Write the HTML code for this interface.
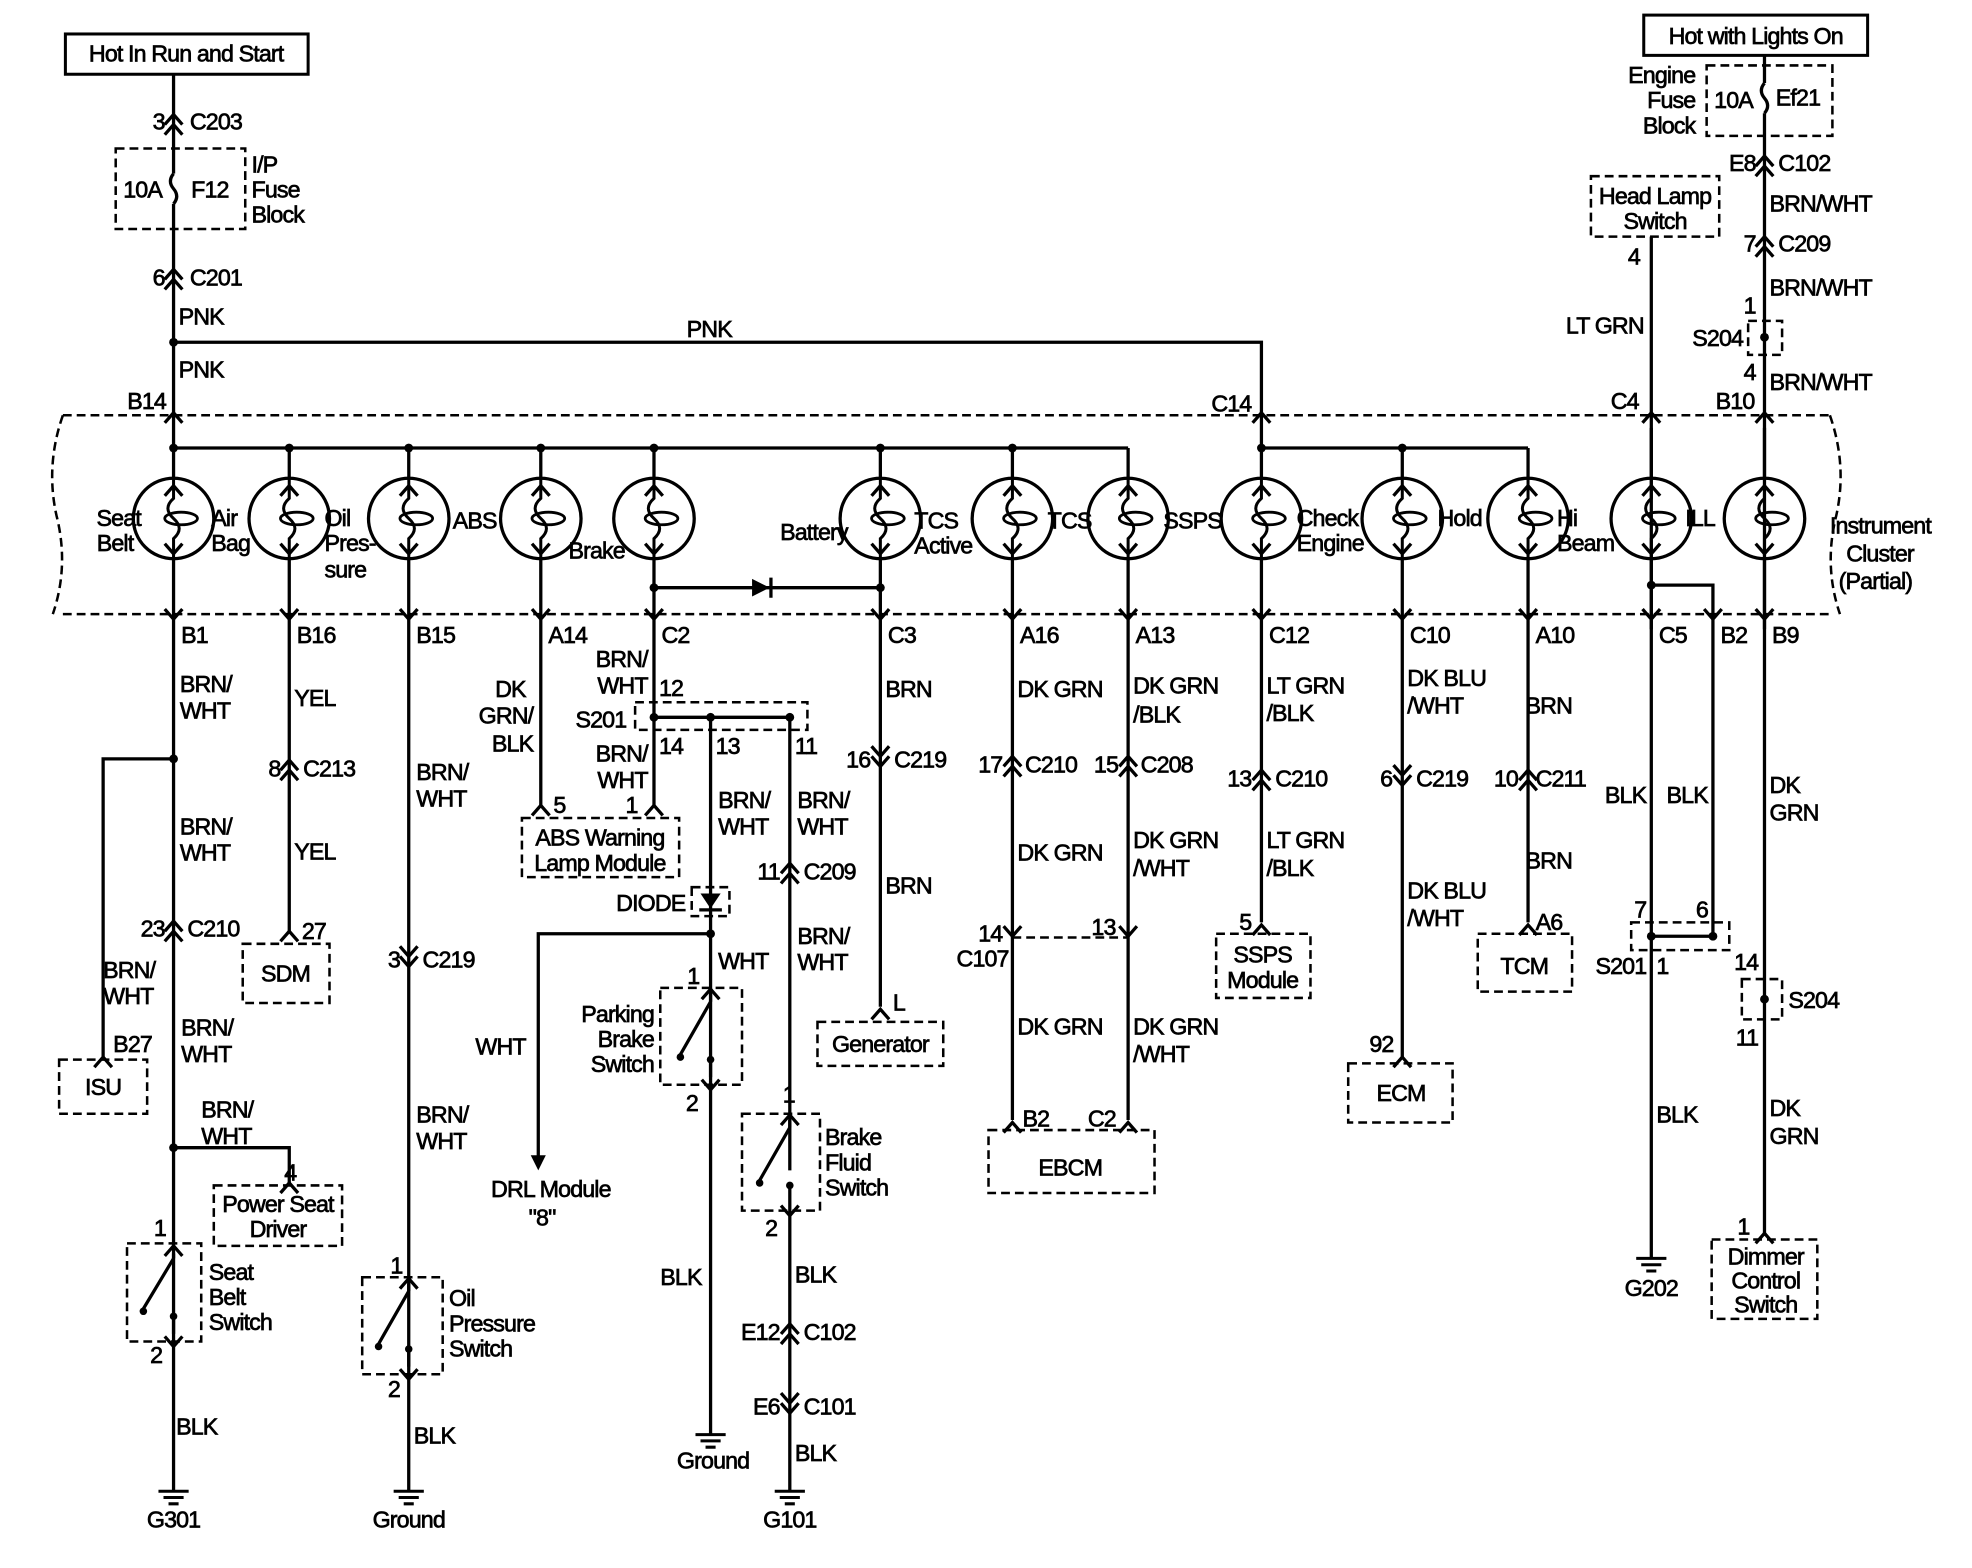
<!DOCTYPE html>
<html><head><meta charset="utf-8"><style>
html,body{margin:0;padding:0;background:#fff}
svg{display:block}
text{font-family:"Liberation Sans",Arial,sans-serif;font-size:18.5px;fill:#000;stroke:#000;stroke-width:0.55px;letter-spacing:-0.7px}
.w{stroke:#000;stroke-width:2.6;fill:none}
.d{stroke:#000;stroke-width:2;fill:none;stroke-dasharray:7,4}
.e{text-anchor:end}
.m{text-anchor:middle}
</style></head><body>
<svg width="1972" height="1568" viewBox="0 0 1568 1246" preserveAspectRatio="none" xmlns="http://www.w3.org/2000/svg">
<defs>
<path id="up" d="M-7,6 L0,-2 L7,6" stroke="#000" stroke-width="2.6" fill="none"/>
<path id="dn" d="M-7,-6 L0,2 L7,-6" stroke="#000" stroke-width="2.6" fill="none"/>
<g id="cu"><use href="#up" y="-4"/><use href="#up" y="4"/></g>
<g id="cd"><use href="#dn" y="-4"/><use href="#dn" y="4"/></g>
<g id="lamp"><circle r="32" stroke="#000" stroke-width="2.6" fill="none"/>
<path d="M0,-32 L0,-16 Q-9,-8 0,0 Q9,8 0,16 L0,32" stroke="#000" stroke-width="2.4" fill="none"/>
<ellipse cx="6" cy="0" rx="13" ry="5" stroke="#000" stroke-width="2.2" fill="none"/>
<use href="#up" y="-24"/><use href="#dn" y="26"/></g>
<circle id="dot" r="3.5" fill="#000"/>
<g id="gnd"><path d="M-12,0 H12 M-8,5 H8 M-4,10 H4" stroke="#000" stroke-width="2.4"/></g>
</defs>

<!-- top left -->
<rect x="52" y="27" width="193" height="32" fill="none" stroke="#000" stroke-width="2.4"/>
<text x="148" y="49" class="m">Hot In Run and Start</text>
<path class="w" d="M138,59 V138 M138,162 V356"/>
<path class="w" d="M138,138 q-5,6 0,12 q5,6 0,12"/>
<use href="#cu" x="138" y="97"/><text x="131" y="103" class="e">3</text><text x="151" y="103">C203</text>
<rect class="d" x="92" y="118" width="103" height="64"/>
<text x="98" y="157">10A</text><text x="152" y="157">F12</text>
<text x="200" y="137">I/P</text><text x="200" y="157">Fuse</text><text x="200" y="177">Block</text>
<use href="#cu" x="138" y="220"/><text x="131" y="227" class="e">6</text><text x="151" y="227">C201</text>
<text x="142" y="258">PNK</text><text x="142" y="300">PNK</text>
<path class="w" d="M138,272 H1003 V356"/><use href="#dot" x="138" y="272"/>
<text x="546" y="268">PNK</text>

<!-- top right -->
<rect x="1307" y="12" width="178" height="32" fill="none" stroke="#000" stroke-width="2.4"/>
<text x="1396" y="35" class="m">Hot with Lights On</text>
<path class="w" d="M1403,44 V66 M1403,90 V500"/>
<path class="w" d="M1403,66 q-5,6 0,12 q5,6 0,12"/>
<rect class="d" x="1357" y="52" width="100" height="56"/>
<text x="1363" y="86">10A</text><text x="1412" y="84">Ef21</text>
<text x="1348" y="66" class="e">Engine</text><text x="1348" y="86" class="e">Fuse</text><text x="1348" y="106" class="e">Block</text>
<use href="#cu" x="1403" y="130"/><text x="1396" y="136" class="e">E8</text><text x="1414" y="136">C102</text>
<text x="1407" y="168">BRN/WHT</text>
<use href="#cu" x="1403" y="194"/><text x="1396" y="200" class="e">7</text><text x="1414" y="200">C209</text>
<text x="1407" y="235">BRN/WHT</text>
<rect class="d" x="1390" y="255" width="27" height="27"/><use href="#dot" x="1403" y="268"/>
<text x="1396" y="249" class="e">1</text><text x="1386" y="275" class="e">S204</text><text x="1396" y="302" class="e">4</text>
<text x="1407" y="310">BRN/WHT</text>
<rect class="d" x="1265" y="140" width="102" height="48"/>
<text x="1316" y="162" class="m">Head Lamp</text><text x="1316" y="182" class="m">Switch</text>
<text x="1304" y="210" class="e">4</text>
<path class="w" d="M1313,188 V500"/>
<text x="1307" y="265" class="e">LT GRN</text>

<!-- cluster -->
<path class="d" d="M50,330 H1455 M50,488 H1455"/>
<path class="d" d="M50,330 q-14,40 -5,80 q10,40 -3,78"/>
<path class="d" d="M1455,330 q14,40 5,80 q-10,40 3,78"/>
<text x="132" y="325" class="e">B14</text><text x="995" y="327" class="e">C14</text>
<text x="1303" y="325" class="e">C4</text><text x="1395" y="325" class="e">B10</text>
<use href="#up" x="138" y="330"/><use href="#up" x="1003" y="330"/><use href="#up" x="1313" y="330"/><use href="#up" x="1403" y="330"/>
<path class="w" d="M138,356 H897 M1003,356 H1215"/>
<use href="#dot" x="138" y="356"/><use href="#dot" x="230" y="356"/><use href="#dot" x="325" y="356"/><use href="#dot" x="430" y="356"/><use href="#dot" x="520" y="356"/><use href="#dot" x="700" y="356"/><use href="#dot" x="805" y="356"/><use href="#dot" x="1003" y="356"/><use href="#dot" x="1115" y="356"/>
<g class="w">
<path d="M138,356 V380 M230,356 V380 M325,356 V380 M430,356 V380 M520,356 V380 M700,356 V380 M805,356 V380 M897,356 V380 M1003,356 V380 M1115,356 V380 M1215,356 V380 M1313,340 V380 M1403,340 V380"/>
</g>
<use href="#lamp" x="138" y="412"/><use href="#lamp" x="230" y="412"/><use href="#lamp" x="325" y="412"/><use href="#lamp" x="430" y="412"/><use href="#lamp" x="520" y="412"/><use href="#lamp" x="700" y="412"/><use href="#lamp" x="805" y="412"/><use href="#lamp" x="897" y="412"/><use href="#lamp" x="1003" y="412"/><use href="#lamp" x="1115" y="412"/><use href="#lamp" x="1215" y="412"/><use href="#lamp" x="1313" y="412"/><use href="#lamp" x="1403" y="412"/>
<text x="112" y="418" class="e">Seat</text><text x="106" y="438" class="e">Belt</text>
<text x="168" y="418">Air</text><text x="168" y="438">Bag</text>
<text x="258" y="418">Oil</text><text x="258" y="438">Pres-</text><text x="258" y="459">sure</text>
<text x="360" y="420">ABS</text><text x="452" y="444">Brake</text>
<text x="674" y="429" class="e">Battery</text>
<text x="727" y="420">TCS</text><text x="727" y="440">Active</text>
<text x="833" y="420">TCS</text><text x="925" y="420">SSPS</text>
<text x="1031" y="418">Check</text><text x="1031" y="438">Engine</text>
<text x="1143" y="418">Hold</text>
<text x="1238" y="418">Hi</text><text x="1238" y="438">Beam</text>
<text x="1340" y="418">ILL</text>
<text x="1455" y="424">Instrument</text><text x="1468" y="446">Cluster</text><text x="1462" y="468">(Partial)</text>
<path class="w" d="M138,444 V1185 M230,444 V740 M325,444 V1185 M430,444 V640 M520,444 V558 M700,444 V800 M805,444 V890 M897,444 V890 M1003,444 V733 M1115,444 V840 M1215,444 V733 M1313,444 V1000 M1403,444 V980"/>
<path class="w" d="M520,467 H700 M1313,465 H1362 V744"/>
<path d="M598,460 L612,467 L598,474 Z" fill="#000"/><path class="w" d="M613,459 V475"/>
<use href="#dot" x="520" y="467"/><use href="#dot" x="700" y="467"/><use href="#dot" x="1313" y="465"/>
<g>
<use href="#dn" x="138" y="490"/><use href="#dn" x="230" y="490"/><use href="#dn" x="325" y="490"/><use href="#dn" x="430" y="490"/><use href="#dn" x="520" y="490"/><use href="#dn" x="700" y="490"/><use href="#dn" x="805" y="490"/><use href="#dn" x="897" y="490"/><use href="#dn" x="1003" y="490"/><use href="#dn" x="1115" y="490"/><use href="#dn" x="1215" y="490"/><use href="#dn" x="1313" y="490"/><use href="#dn" x="1362" y="490"/><use href="#dn" x="1403" y="490"/>
</g>
<text x="144" y="511">B1</text><text x="236" y="511">B16</text><text x="331" y="511">B15</text><text x="436" y="511">A14</text><text x="526" y="511">C2</text><text x="706" y="511">C3</text><text x="811" y="511">A16</text><text x="903" y="511">A13</text><text x="1009" y="511">C12</text><text x="1121" y="511">C10</text><text x="1221" y="511">A10</text><text x="1319" y="511">C5</text><text x="1368" y="511">B2</text><text x="1409" y="511">B9</text>

<!-- col 138 -->
<text x="143" y="550">BRN/</text><text x="143" y="571">WHT</text>
<use href="#dot" x="138" y="603"/><path class="w" d="M138,603 H82 V840"/><use href="#up" x="82" y="842"/>
<text x="143" y="663">BRN/</text><text x="143" y="684">WHT</text>
<use href="#cu" x="138" y="738"/><text x="131" y="744" class="e">23</text><text x="149" y="744">C210</text>
<text x="82" y="777">BRN/</text><text x="82" y="798">WHT</text>
<text x="144" y="823">BRN/</text><text x="144" y="844">WHT</text>
<text x="90" y="836">B27</text>
<rect class="d" x="47" y="842" width="70" height="43"/><text x="82" y="870" class="m">ISU</text>
<use href="#dot" x="138" y="912"/><path class="w" d="M138,912 H230 V940"/><use href="#up" x="230" y="942"/>
<text x="160" y="888">BRN/</text><text x="160" y="909">WHT</text><text x="226" y="938">4</text>
<rect class="d" x="170" y="942" width="102" height="48"/>
<text x="221" y="963" class="m">Power Seat</text><text x="221" y="983" class="m">Driver</text>
<rect class="d" x="101" y="988" width="59" height="78" fill="#fff"/>
<text x="132" y="982" class="e">1</text><text x="129" y="1083" class="e">2</text>
<use href="#up" x="138" y="992"/><use href="#dn" x="138" y="1068"/>
<path class="w" d="M138,996 V1000 M114,1040 L138,1000 M138,1048 V1060" />
<circle cx="114" cy="1042" r="3" fill="#000"/><circle cx="138" cy="1046" r="3" fill="#000"/>
<text x="166" y="1017">Seat</text><text x="166" y="1037">Belt</text><text x="166" y="1057">Switch</text>
<text x="140" y="1140">BLK</text>
<use href="#gnd" x="138" y="1185"/><text x="138" y="1214" class="m">G301</text>

<!-- col 230 -->
<text x="234" y="561">YEL</text>
<use href="#cu" x="230" y="610"/><text x="223" y="617" class="e">8</text><text x="241" y="617">C213</text>
<text x="234" y="683">YEL</text>
<use href="#up" x="230" y="742"/><text x="240" y="746">27</text>
<rect class="d" x="193" y="750" width="69" height="47"/><text x="227" y="780" class="m">SDM</text>

<!-- col 325 -->
<text x="331" y="620">BRN/</text><text x="331" y="641">WHT</text>
<use href="#cd" x="325" y="762"/><text x="318" y="769" class="e">3</text><text x="336" y="769">C219</text>
<text x="331" y="892">BRN/</text><text x="331" y="913">WHT</text>
<rect class="d" x="288" y="1015" width="64" height="77" fill="#fff"/>
<text x="320" y="1012" class="e">1</text><text x="318" y="1110" class="e">2</text>
<use href="#up" x="325" y="1018"/><use href="#dn" x="325" y="1094"/>
<path class="w" d="M325,1020 V1026 M301,1068 L325,1026 M325,1074 V1086"/>
<circle cx="301" cy="1070" r="3" fill="#000"/><circle cx="325" cy="1072" r="3" fill="#000"/>
<text x="357" y="1038">Oil</text><text x="357" y="1058">Pressure</text><text x="357" y="1078">Switch</text>
<text x="329" y="1147">BLK</text>
<use href="#gnd" x="325" y="1185"/><text x="325" y="1214" class="m">Ground</text>

<!-- col 430/520 -->
<text x="418" y="554" class="e">DK</text><text x="424" y="575" class="e">GRN/</text><text x="424" y="597" class="e">BLK</text>
<use href="#up" x="430" y="642"/><text x="440" y="646">5</text>
<text x="515" y="530" class="e">BRN/</text><text x="515" y="551" class="e">WHT</text><text x="524" y="553">12</text>
<rect class="d" x="505" y="558" width="137" height="22"/>
<text x="498" y="578" class="e">S201</text>
<path class="w" d="M520,558 V640 M520,570 H628 V930 M565,570 V742"/>
<use href="#dot" x="520" y="570"/><use href="#dot" x="565" y="570"/><use href="#dot" x="628" y="570"/>
<text x="524" y="599">14</text><text x="569" y="599">13</text><text x="632" y="599">11</text>
<text x="515" y="605" class="e">BRN/</text><text x="515" y="626" class="e">WHT</text>
<use href="#up" x="520" y="642"/><text x="507" y="646" class="e">1</text>
<rect class="d" x="415" y="650" width="125" height="47"/>
<text x="477" y="672" class="m">ABS Warning</text><text x="477" y="692" class="m">Lamp Module</text>
<text x="571" y="642">BRN/</text><text x="571" y="663">WHT</text>
<text x="634" y="642">BRN/</text><text x="634" y="663">WHT</text>
<rect class="d" x="550" y="705" width="30" height="23"/>
<path d="M557,710 L573,710 L565,722 Z" fill="#000"/><path class="w" d="M556,723 H574"/>
<text x="545" y="724" class="e">DIODE</text>
<use href="#dot" x="565" y="742"/><path class="w" d="M565,742 H428 V920"/>
<path d="M422,918 L434,918 L428,930 Z" fill="#000"/>
<text x="378" y="838">WHT</text>
<text x="438" y="951" class="m">DRL Module</text><text x="431" y="974" class="m">"8"</text>
<text x="571" y="770">WHT</text>
<path class="w" d="M565,742 V1140"/>
<rect class="d" x="525" y="785" width="65" height="77" fill="#fff"/>
<text x="556" y="782" class="e">1</text><text x="555" y="883" class="e">2</text>
<use href="#up" x="565" y="788"/><use href="#dn" x="565" y="864"/>
<path class="w" d="M565,790 V796 M541,838 L565,796 M565,844 V856"/>
<circle cx="541" cy="840" r="3" fill="#000"/><circle cx="565" cy="842" r="3" fill="#000"/>
<text x="520" y="812" class="e">Parking</text><text x="520" y="832" class="e">Brake</text><text x="520" y="852" class="e">Switch</text>
<text x="525" y="1021">BLK</text>
<use href="#gnd" x="565" y="1140"/><text x="567" y="1167" class="m">Ground</text>
<use href="#cu" x="628" y="692"/><text x="620" y="699" class="e">11</text><text x="639" y="699">C209</text>
<text x="634" y="750">BRN/</text><text x="634" y="771">WHT</text>
<text x="632" y="876" class="e">1</text>
<rect class="d" x="590" y="885" width="62" height="77" fill="#fff"/>
<text x="618" y="982" class="e">2</text>
<use href="#up" x="628" y="888"/><use href="#dn" x="628" y="964"/>
<path class="w" d="M628,890 V896 M604,938 L628,896 M628,944 V1185"/>
<circle cx="604" cy="940" r="3" fill="#000"/><circle cx="628" cy="942" r="3" fill="#000"/>
<text x="656" y="910">Brake</text><text x="656" y="930">Fluid</text><text x="656" y="950">Switch</text>
<text x="632" y="1019">BLK</text>
<use href="#cu" x="628" y="1058"/><text x="620" y="1065" class="e">E12</text><text x="639" y="1065">C102</text>
<use href="#cd" x="628" y="1117"/><text x="620" y="1124" class="e">E6</text><text x="639" y="1124">C101</text>
<text x="632" y="1161">BLK</text>
<use href="#gnd" x="628" y="1185"/><text x="628" y="1214" class="m">G101</text>

<!-- col 700 -->
<text x="704" y="554">BRN</text>
<use href="#cd" x="700" y="603"/><text x="692" y="610" class="e">16</text><text x="711" y="610">C219</text>
<text x="704" y="710">BRN</text>
<use href="#up" x="700" y="804"/><text x="710" y="803">L</text>
<rect class="d" x="650" y="812" width="100" height="35"/><text x="700" y="836" class="m">Generator</text>

<!-- col 805/897 -->
<text x="809" y="554">DK GRN</text>
<use href="#cu" x="805" y="607"/><text x="797" y="614" class="e">17</text><text x="815" y="614">C210</text>
<text x="809" y="684">DK GRN</text>
<use href="#dn" x="805" y="742"/><text x="797" y="748" class="e">14</text><text x="802" y="768" class="e">C107</text>
<path class="d" d="M805,745 H897"/>
<text x="809" y="822">DK GRN</text>
<text x="901" y="551">DK GRN</text><text x="901" y="574">/BLK</text>
<use href="#cu" x="897" y="607"/><text x="889" y="614" class="e">15</text><text x="907" y="614">C208</text>
<text x="901" y="674">DK GRN</text><text x="901" y="696">/WHT</text>
<use href="#dn" x="897" y="742"/><text x="887" y="743" class="e">13</text>
<text x="901" y="822">DK GRN</text><text x="901" y="844">/WHT</text>
<use href="#up" x="805" y="894"/><use href="#up" x="897" y="894"/>
<text x="813" y="895">B2</text><text x="865" y="895">C2</text>
<rect class="d" x="786" y="898" width="132" height="50"/><text x="851" y="934" class="m">EBCM</text>

<!-- col 1003 -->
<text x="1007" y="551">LT GRN</text><text x="1007" y="573">/BLK</text>
<use href="#cu" x="1003" y="618"/><text x="995" y="625" class="e">13</text><text x="1014" y="625">C210</text>
<text x="1007" y="674">LT GRN</text><text x="1007" y="696">/BLK</text>
<use href="#up" x="1003" y="737"/><text x="995" y="739" class="e">5</text>
<rect class="d" x="967" y="742" width="75" height="51"/>
<text x="1004" y="765" class="m">SSPS</text><text x="1004" y="785" class="m">Module</text>

<!-- col 1115 -->
<text x="1119" y="545">DK BLU</text><text x="1119" y="567">/WHT</text>
<use href="#cd" x="1115" y="618"/><text x="1107" y="625" class="e">6</text><text x="1126" y="625">C219</text>
<text x="1119" y="714">DK BLU</text><text x="1119" y="736">/WHT</text>
<use href="#up" x="1115" y="842"/><text x="1108" y="836" class="e">92</text>
<rect class="d" x="1072" y="845" width="83" height="47"/><text x="1114" y="875" class="m">ECM</text>

<!-- col 1215 -->
<text x="1213" y="567">BRN</text>
<use href="#cu" x="1215" y="618"/><text x="1207" y="625" class="e">10</text><text x="1221" y="625">C211</text>
<text x="1213" y="690">BRN</text>
<use href="#up" x="1215" y="737"/><text x="1221" y="739">A6</text>
<rect class="d" x="1175" y="742" width="75" height="46"/><text x="1212" y="774" class="m">TCM</text>

<!-- col 1313/1362 -->
<text x="1309" y="638" class="e">BLK</text><text x="1358" y="638" class="e">BLK</text>
<rect class="d" x="1297" y="733" width="78" height="22"/>
<use href="#dot" x="1313" y="744"/><use href="#dot" x="1362" y="744"/><path class="w" d="M1313,744 H1362"/>
<text x="1309" y="729" class="e">7</text><text x="1358" y="729" class="e">6</text>
<text x="1309" y="774" class="e">S201</text><text x="1317" y="774">1</text>
<text x="1317" y="892">BLK</text>
<use href="#gnd" x="1313" y="1000"/><text x="1313" y="1030" class="m">G202</text>

<!-- col 1403 -->
<text x="1407" y="630">DK</text><text x="1407" y="652">GRN</text>
<text x="1398" y="771" class="e">14</text>
<rect class="d" x="1385" y="778" width="32" height="32"/><use href="#dot" x="1403" y="794"/>
<text x="1422" y="801">S204</text><text x="1398" y="831" class="e">11</text>
<text x="1407" y="887">DK</text><text x="1407" y="909">GRN</text>
<use href="#up" x="1403" y="982"/><text x="1391" y="981" class="e">1</text>
<rect class="d" x="1361" y="985" width="84" height="63"/>
<text x="1404" y="1005" class="m">Dimmer</text><text x="1404" y="1024" class="m">Control</text><text x="1404" y="1043" class="m">Switch</text>
</svg>
</body></html>
